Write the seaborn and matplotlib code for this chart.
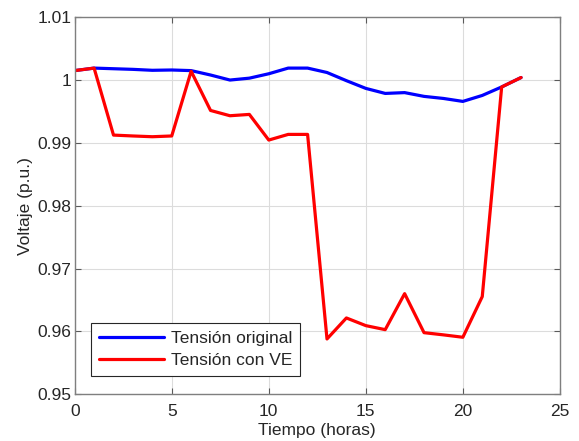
import numpy as np
import pandas as pd
import matplotlib
matplotlib.use("Agg")
import matplotlib.pyplot as plt
from matplotlib.ticker import FuncFormatter
import seaborn as sns

hours = list(range(24))
tension_original = [1.0015, 1.0019, 1.0018, 1.0017, 1.00155, 1.0016, 1.0015, 1.0008, 1.0000, 1.0003,
                    1.0010, 1.0019, 1.0019, 1.0012, 0.9999, 0.99867, 0.99787, 0.9980, 0.9974, 0.99707,
                    0.9966, 0.99755, 0.9989, 1.0004]
tension_ve = [1.0015, 1.0019, 0.99124, 0.9911, 0.99098, 0.9911, 1.0014, 0.99516, 0.99432, 0.99453,
              0.99045, 0.99135, 0.99135, 0.9588, 0.96214, 0.96092, 0.96028, 0.96601, 0.9598, 0.95945,
              0.95907, 0.96554, 0.9989, 1.0004]

df = pd.DataFrame({
    "Tiempo": hours * 2,
    "Voltaje": tension_original + tension_ve,
    "Serie": ["Tensión original"] * 24 + ["Tensión con VE"] * 24,
})

sns.set_theme(style="whitegrid")
plt.rcParams["font.family"] = ["Liberation Sans", "DejaVu Sans"]

fig = plt.figure(figsize=(5.79, 4.41), dpi=100)
ax = fig.add_axes([0.129, 0.106, 0.838, 0.855])

sns.lineplot(data=df, x="Tiempo", y="Voltaje", hue="Serie",
             palette={"Tensión original": "#0000ff", "Tensión con VE": "#ff0000"},
             linewidth=2.3, ax=ax)

ax.set_xlim(0, 25)
ax.set_ylim(0.95, 1.01)
ax.set_xticks([0, 5, 10, 15, 20, 25])
ax.set_yticks([0.95, 0.96, 0.97, 0.98, 0.99, 1.0, 1.01])
ax.yaxis.set_major_formatter(FuncFormatter(lambda v, p: f"{v:g}"))
ax.set_xlabel("Tiempo (horas)", fontsize=12.5, color="#262626", labelpad=3)
ax.set_ylabel("Voltaje (p.u.)", fontsize=12.5, color="#262626", labelpad=3)

ax.set_facecolor("white")
ax.grid(True, color="#dcdcdc", linewidth=0.8)
for s in ax.spines.values():
    s.set_color("#7f7f7f")
    s.set_linewidth(1.0)
ax.tick_params(axis="both", direction="in", length=4, width=0.8, color="#5a5a5a",
               labelsize=12.5, labelcolor="#262626", top=True, right=True, pad=2.5,
               bottom=True, left=True)
ax.tick_params(axis="x", pad=7)

leg = ax.legend(loc="lower left", bbox_to_anchor=(0.0336, 0.0485), borderaxespad=0,
                fontsize=12.5, frameon=True, fancybox=False, edgecolor="#262626", framealpha=1,
                handlelength=3.75, borderpad=0.45, labelspacing=0.4, handletextpad=0.4)
leg.get_frame().set_linewidth(0.8)
for line in leg.get_lines():
    line.set_linewidth(2.3)

fig.savefig("out.png", dpi=100)
